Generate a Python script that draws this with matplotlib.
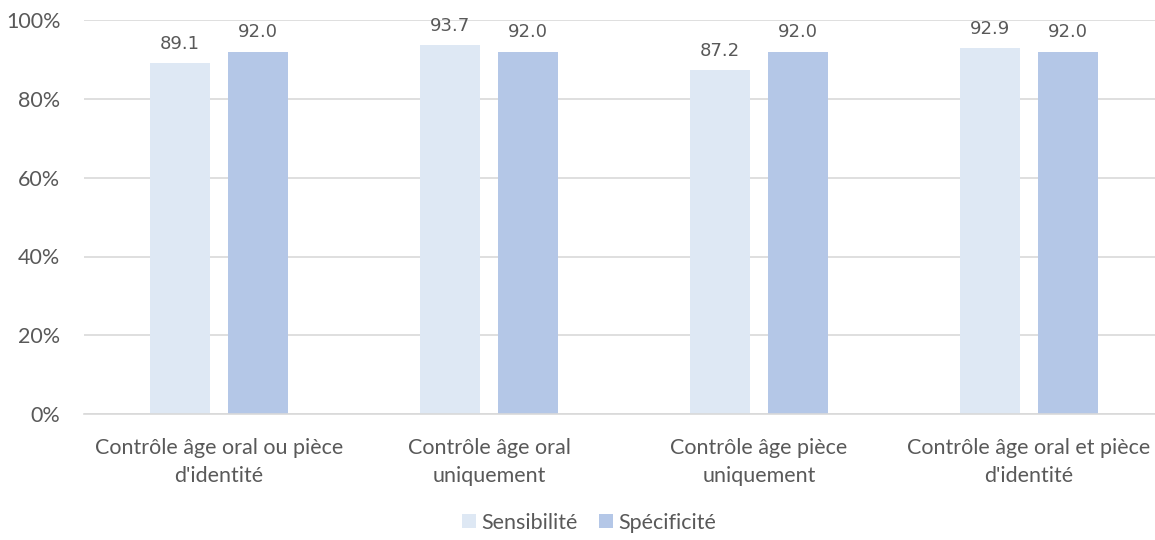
import numpy as np
import matplotlib.pyplot as plt
from matplotlib.ticker import FuncFormatter

categories = ["Contrôle âge oral ou pièce\nd'identité",
              "Contrôle âge oral\nuniquement",
              "Contrôle âge pièce\nuniquement",
              "Contrôle âge oral et pièce\nd'identité"]
sensibilite = [89.1, 93.7, 87.2, 92.9]
specificite = [92.0, 92.0, 92.0, 92.0]

plt.rcParams['font.family'] = ['Lato', 'DejaVu Sans']
txt = '#595959'

fig = plt.figure(figsize=(11.55, 5.4), dpi=100)
ax = fig.add_axes([0.0727, 0.233, 0.9273, 0.730])

x = np.arange(len(categories))
w = 0.222
gap = 0.289
b1 = ax.bar(x - gap / 2, sensibilite, w, color='#DEE8F4', label='Sensibilité', zorder=2)
b2 = ax.bar(x + gap / 2, specificite, w, color='#B4C7E7', label='Spécificité', zorder=2)

for bars, vals in ((b1, sensibilite), (b2, specificite)):
    for r, v in zip(bars, vals):
        ax.text(r.get_x() + r.get_width() / 2, v + 2.6, f'{v:.1f}',
                ha='center', va='bottom', fontsize=13, color=txt,
                family=['DejaVu Sans'])

ax.set_ylim(0, 100)
ax.set_xlim(-0.5, 3.467)
ax.set_yticks(range(0, 101, 20))
ax.yaxis.set_major_formatter(FuncFormatter(lambda v, p: f'{v:.0f}%'))
ax.set_xticks(x)
ax.set_xticklabels(categories, fontsize=15.5, color=txt, linespacing=1.5)
ax.tick_params(axis='y', labelsize=15.5, labelcolor=txt, length=0, pad=17)
ax.tick_params(axis='x', length=0, pad=17)
ax.grid(axis='y', color='#D9D9D9', linewidth=1.2, zorder=0)
for s in ('top', 'right', 'left'):
    ax.spines[s].set_visible(False)
ax.spines['bottom'].set_color('#D9D9D9')
ax.spines['bottom'].set_linewidth(1.2)

fig.legend(handles=[b1, b2], loc='lower center', bbox_to_anchor=(0.51, -0.022),
           ncol=2, frameon=False, fontsize=15.5, labelcolor=txt,
           handlelength=0.65, handleheight=0.65, handletextpad=0.25, columnspacing=1.0)

fig.savefig('out.png', dpi=100)
